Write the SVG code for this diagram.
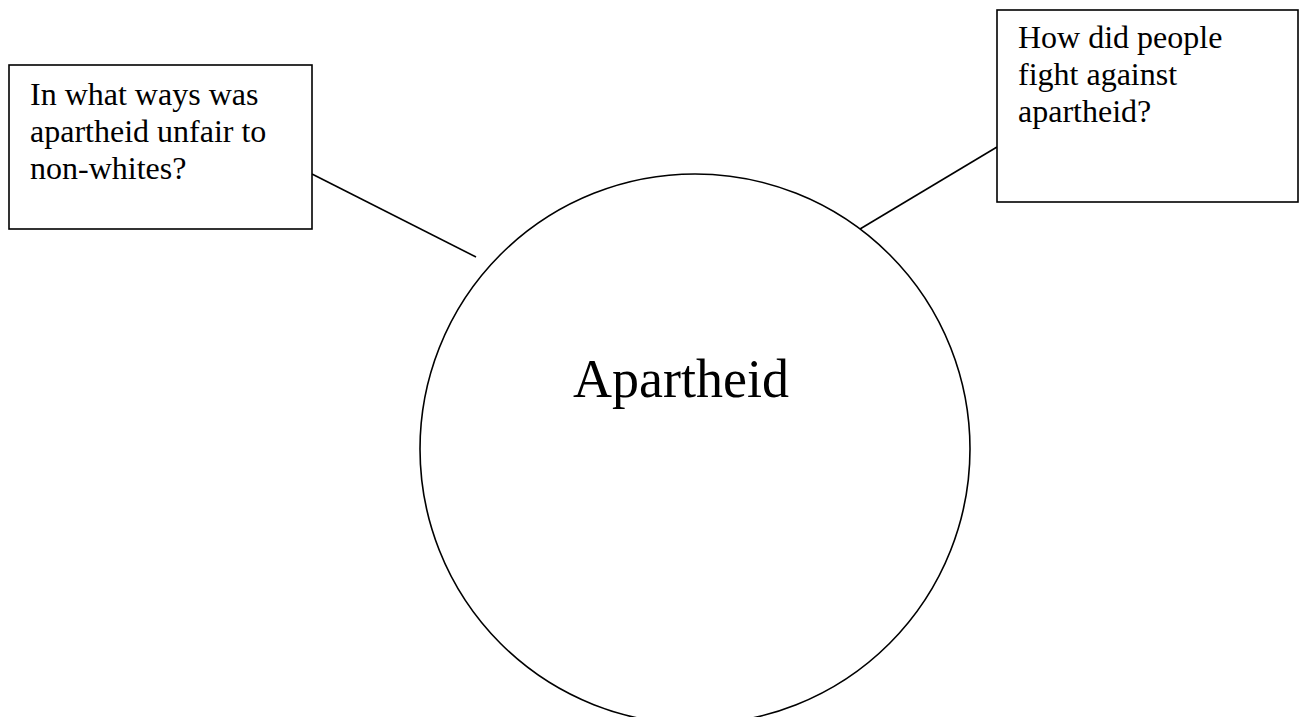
<svg xmlns="http://www.w3.org/2000/svg" width="1306" height="717" viewBox="0 0 1306 717">
  <style>
    .box { fill: #ffffff; stroke: #000000; stroke-width: 1.6; }
    .hub { fill: none; stroke: #000000; stroke-width: 1.6; }
    .link { stroke: #000000; stroke-width: 1.6; fill: none; }
    .q { font-family: "Liberation Serif", "Times New Roman", serif; font-size: 32px; fill: #000000; }
    .title { font-family: "Liberation Serif", "Times New Roman", serif; font-size: 54px; fill: #000000; }
  </style>
  <rect width="1306" height="717" fill="#ffffff"/>

  <!-- connectors -->
  <g id="connectors">
    <line class="link" x1="312" y1="174" x2="476" y2="257"/>
    <line class="link" x1="860" y1="229" x2="997" y2="147"/>
  </g>

  <!-- central topic -->
  <g id="node-apartheid">
    <circle class="hub" cx="695" cy="449" r="275"/>
    <text class="title" x="573" y="397">Apartheid</text>
  </g>

  <!-- left question -->
  <g id="node-unfair">
    <rect class="box" x="9" y="65" width="303" height="164"/>
    <text class="q" x="30" y="105">In what ways was</text>
    <text class="q" x="30" y="142">apartheid unfair to</text>
    <text class="q" x="30" y="179">non-whites?</text>
  </g>

  <!-- right question -->
  <g id="node-fight">
    <rect class="box" x="997" y="10" width="301" height="192"/>
    <text class="q" x="1018" y="48">How did people</text>
    <text class="q" x="1018" y="85">fight against</text>
    <text class="q" x="1018" y="122">apartheid?</text>
  </g>
</svg>
